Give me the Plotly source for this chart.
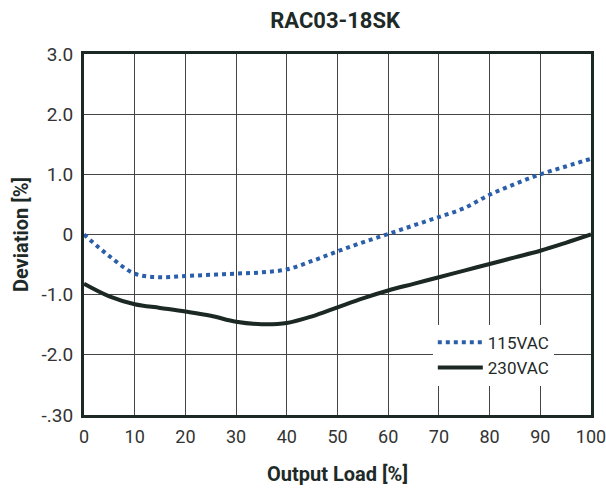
import plotly.graph_objects as go

load = [0, 5, 10, 15, 20, 25, 30, 35, 40, 45, 50, 55, 60, 65, 70, 75, 80, 85, 90, 95, 100]
dev_115 = [0.0, -0.36, -0.65, -0.71, -0.69, -0.67, -0.65, -0.63, -0.58, -0.44, -0.28, -0.13, 0.01, 0.15, 0.29, 0.44, 0.66, 0.84, 1.0, 1.13, 1.26]
dev_230 = [-0.82, -1.03, -1.16, -1.22, -1.28, -1.35, -1.45, -1.49, -1.47, -1.36, -1.21, -1.06, -0.93, -0.82, -0.71, -0.6, -0.49, -0.38, -0.27, -0.14, 0.0]

y_tickvals = [3, 2, 1, 0, -1, -2, -3]
y_ticktext = ["3.0", "2.0", "1.0", "0", "-1.0", "-2.0", "-.30"]
x_tickvals = [0, 10, 20, 30, 40, 50, 60, 70, 80, 90, 100]

FONT = "Roboto, Arial"
fig = go.Figure()
fig.add_trace(go.Scatter(x=load, y=dev_115, mode="lines", name="115VAC",
                         line=dict(color="#2b5fa9", width=4, dash="dot", shape="spline")))
fig.add_trace(go.Scatter(x=load, y=dev_230, mode="lines", name="230VAC",
                         line=dict(color="#1b2824", width=4, shape="spline")))

fig.update_layout(
    width=606, height=494,
    margin=dict(l=84, r=15, t=54, b=79),
    paper_bgcolor="white", plot_bgcolor="white",
    font=dict(family=FONT, color="#333333", size=18),
    title=dict(text="<b>RAC03-18SK</b>", x=0.553, xanchor="center", y=0.9595, yanchor="middle",
               font=dict(family=FONT, size=22, color="#1e2a28")),
    showlegend=True,
    legend=dict(x=0.688, y=0.25, xanchor="left", yanchor="top", bgcolor="white",
                font=dict(family=FONT, size=17, color="#1e2a28"), itemwidth=45,
                tracegroupgap=0),
)
fig.update_xaxes(range=[0, 100], tickvals=x_tickvals, showgrid=True, gridcolor="#444444", gridwidth=1.2,
                 zeroline=False, showline=True, linecolor="#1b2824", linewidth=3, mirror=True,
                 ticks="", ticklen=0, automargin=False, ticklabeloverflow="allow", ticklabelstandoff=3,
                 title=dict(text="<b>Output Load [%]</b>", font=dict(family=FONT, size=20, color="#1e2a28"), standoff=22),
                 tickfont=dict(family=FONT, size=18, color="#333333"))
fig.update_yaxes(range=[-3, 3], tickvals=y_tickvals, ticktext=y_ticktext, showgrid=True, gridcolor="#444444", gridwidth=1.2,
                 zeroline=False, showline=True, linecolor="#1b2824", linewidth=3, mirror=True,
                 ticks="", ticklen=0, automargin=False, ticklabelstandoff=4,
                 title=dict(text="<b>Deviation [%]</b>", font=dict(family=FONT, size=20, color="#1e2a28"), standoff=8),
                 tickfont=dict(family=FONT, size=19, color="#333333"))

fig.write_html("out.html", config={"displayModeBar": False},
               post_script="document.body.style.margin='0';document.body.style.overflow='hidden';")
